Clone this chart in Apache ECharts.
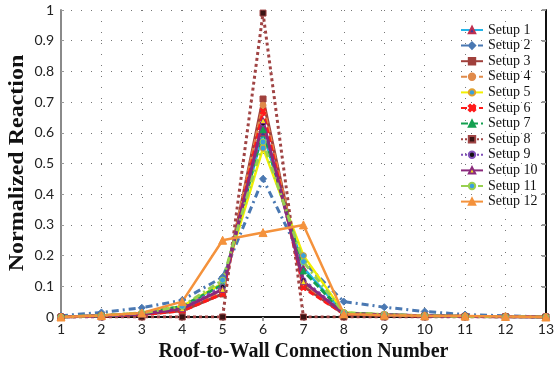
<!DOCTYPE html>
<html>
<head>
<meta charset="utf-8">
<script src="https://cdn.jsdelivr.net/npm/echarts@6/dist/echarts.min.js"></script>
<style>html,body{margin:0;padding:0;background:#fff}#c{width:557px;height:373px}</style>
</head>
<body>
<div id="c"></div>
<script>
var categories = ['1','2','3','4','5','6','7','8','9','10','11','12','13'];
var yTicks = [0, 0.1, 0.2, 0.3, 0.4, 0.5, 0.6, 0.7, 0.8, 0.9, 1];
var setup1  = [0, 0.004, 0.012, 0.030, 0.110, 0.600, 0.160, 0.012, 0.008, 0.004, 0.002, 0.001, 0];
var setup2  = [0.004, 0.015, 0.030, 0.055, 0.130, 0.450, 0.180, 0.050, 0.032, 0.018, 0.008, 0.004, 0];
var setup3  = [0, 0.003, 0.008, 0.020, 0.075, 0.710, 0.100, 0.010, 0.006, 0.003, 0.002, 0.001, 0];
var setup4  = [0, 0.004, 0.010, 0.025, 0.085, 0.690, 0.110, 0.012, 0.007, 0.004, 0.002, 0.001, 0];
var setup5  = [0, 0.005, 0.013, 0.035, 0.110, 0.550, 0.200, 0.015, 0.008, 0.004, 0.002, 0.001, 0];
var setup6  = [0, 0.003, 0.008, 0.020, 0.075, 0.670, 0.095, 0.010, 0.006, 0.003, 0.002, 0.001, 0];
var setup7  = [0, 0.004, 0.012, 0.035, 0.105, 0.610, 0.150, 0.013, 0.007, 0.004, 0.002, 0.001, 0];
var setup8  = [0, 0, 0, 0, 0, 0.990, 0, 0, 0, 0, 0, 0, 0];
var setup9  = [0, 0.004, 0.010, 0.028, 0.098, 0.630, 0.120, 0.012, 0.007, 0.004, 0.002, 0.001, 0];
var setup10 = [0, 0.004, 0.010, 0.027, 0.090, 0.640, 0.115, 0.011, 0.007, 0.004, 0.002, 0.001, 0];
var setup11 = [0, 0.005, 0.013, 0.035, 0.120, 0.570, 0.180, 0.014, 0.008, 0.004, 0.002, 0.001, 0];
var setup12 = [0, 0.005, 0.013, 0.050, 0.250, 0.275, 0.300, 0.010, 0.006, 0.004, 0.003, 0.002, 0];
var seriesNames = ['Setup 1','Setup 2','Setup 3','Setup 4','Setup 5','Setup 6','Setup 7','Setup 8','Setup 9','Setup 10','Setup 11','Setup 12'];
var seriesData = [setup1, setup2, setup3, setup4, setup5, setup6, setup7, setup8, setup9, setup10, setup11, setup12];

var crossPath = 'path://M2,0L5,3L8,0L10,2L7,5L10,8L8,10L5,7L2,10L0,8L3,5L0,2Z';
var styles = [
  {line:'#22b4e8', type:'solid',   w:2.5, sym:'triangle', mk:'#3a3a9a', bd:'#c03050', size:6},
  {line:'#4a78b2', type:[7,4,2,4], w:3,   sym:'diamond',  mk:'#4a78b2', bd:'#4a78b2', size:7},
  {line:'#a0403c', type:'solid',   w:3,   sym:'rect',     mk:'#a0403c', bd:'#a0403c', size:6},
  {line:'#e08a4a', type:[6,3],     w:3,   sym:'circle',   mk:'#e08a4a', bd:'#e08a4a', size:6},
  {line:'#f2f000', type:'solid',   w:2.5, sym:'circle',   mk:'#3aa0dc', bd:'#e0a030', size:6},
  {line:'#ff1a1a', type:[6,3],     w:3,   sym:crossPath,  mk:'#ff1a1a', bd:'#ff1a1a', size:6},
  {line:'#14a050', type:[7,3],     w:3,   sym:'triangle', mk:'#14a050', bd:'#14a050', size:6},
  {line:'#a04444', type:'dotted',  w:3,   sym:'rect',     mk:'#3a1414', bd:'#a04444', size:6},
  {line:'#8050b8', type:'dotted',  w:3,   sym:'circle',   mk:'#111111', bd:'#8050b8', size:5},
  {line:'#8a2a7c', type:'solid',   w:3,   sym:'triangle', mk:'#f0e020', bd:'#8a2a7c', size:6},
  {line:'#98d050', type:[7,4,2,4], w:3,   sym:'circle',   mk:'#3a9ee0', bd:'#98d050', size:6},
  {line:'#f4923c', type:'solid',   w:2.5, sym:'triangle', mk:'#f4923c', bd:'#f4923c', size:8}
];

var series = seriesNames.map(function(n, i){
  var s = styles[i];
  return {
    name: n, type: 'line', data: seriesData[i],
    xAxisIndex: 0, yAxisIndex: 0,
    symbol: s.sym, symbolSize: s.size, showSymbol: true,
    lineStyle: {color: s.line, width: s.w, type: s.type},
    itemStyle: {color: s.mk, borderColor: s.bd, borderWidth: 1},
    emphasis: {disabled: true},
    animation: false
  };
});

var gridDot = {show: true, lineStyle: {color: '#777', width: 1, type: [1, 9]}};
var chart = echarts.init(document.getElementById('c'));
chart.setOption({
  backgroundColor: '#fff',
  animation: false,
  grid: {left: 61, right: 11, top: 10, bottom: 56},
  legend: {
    orient: 'vertical', left: 455, top: 18,
    itemWidth: 22, itemHeight: 8, itemGap: 1.6,
    textStyle: {fontFamily: '"Liberation Serif", serif', fontSize: 14, lineHeight: 13, color: '#111'},
    data: seriesNames
  },
  xAxis: [{
    type: 'category', data: categories, boundaryGap: false, position: 'bottom',
    axisLine: {lineStyle: {color: '#8a8a8a', width: 2}},
    axisTick: {show: false},
    axisLabel: {fontFamily: 'Lato, sans-serif', fontSize: 14, color: '#222', margin: 5},
    splitLine: {show: true, lineStyle: {color: '#777', width: 1, type: [1, 10]}},
    name: 'Roof-to-Wall Connection Number', nameLocation: 'middle', nameGap: 25,
    nameTextStyle: {fontFamily: '"Liberation Serif", serif', fontWeight: 'bold', fontSize: 20, color: '#111'}
  }, {
    type: 'category', data: categories, boundaryGap: false, position: 'top',
    axisLine: {lineStyle: {color: '#111', width: 2}},
    axisTick: {show: true, inside: true, length: 4, lineStyle: {color: '#999', width: 2}},
    axisLabel: {show: false}, splitLine: {show: false}
  }],
  yAxis: [{
    type: 'value', min: 0, max: 1, interval: 0.1,
    axisLine: {show: true, lineStyle: {color: '#8a8a8a', width: 2}},
    axisTick: {show: true, inside: true, length: 3, lineStyle: {color: '#999'}},
    axisLabel: {fontFamily: 'Lato, sans-serif', fontSize: 14, color: '#222', margin: 7,
      formatter: function(v){ return yTicks.indexOf(Math.round(v*10)/10) >= 0 ? String(Math.round(v*10)/10) : ''; }},
    splitLine: gridDot
  }, {
    type: 'value', min: 0, max: 1, interval: 0.1, position: 'right',
    axisLine: {show: true, lineStyle: {color: '#111', width: 2}},
    axisTick: {show: true, inside: true, length: 4, lineStyle: {color: '#999', width: 2}},
    axisLabel: {show: false}, splitLine: {show: false}
  }],
  graphic: [{
    type: 'text', x: 18, y: 163, rotation: Math.PI / 2, scaleX: 1.2,
    style: {text: 'Normalized Reaction', font: 'bold 20px "Liberation Serif", serif',
      fill: '#111', align: 'center', verticalAlign: 'middle'}
  }],
  series: series
});
</script>
</body>
</html>
